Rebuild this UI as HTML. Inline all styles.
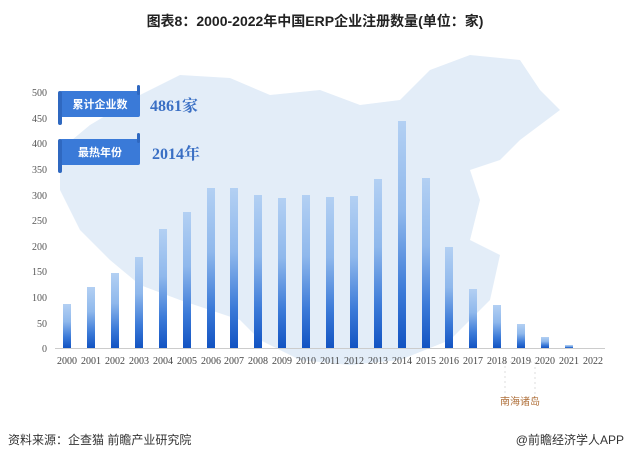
<!DOCTYPE html>
<html><head><meta charset="utf-8"><style>
html,body{margin:0;padding:0;background:#fff;}
svg{display:block;}
</style></head><body>
<svg width="630" height="456" viewBox="0 0 630 456" xmlns="http://www.w3.org/2000/svg">
<defs>
<linearGradient id="g" x1="0" y1="0" x2="0" y2="1">
<stop offset="0" stop-color="#b3d0f3"/>
<stop offset="0.4" stop-color="#8fb8ec"/>
<stop offset="0.75" stop-color="#3b7ad8"/>
<stop offset="1" stop-color="#1253c2"/>
</linearGradient>
</defs>
<text x="315" y="26" text-anchor="middle" font-family="Liberation Sans, Noto Sans CJK SC, sans-serif" font-size="14" font-weight="bold" fill="#222">图表8：2000-2022年中国ERP企业注册数量(单位：家)</text>
<path d="M140,95 L180,75 L230,78 L270,95 L320,90 L360,105 L400,100 L430,70 L470,55 L520,60 L540,90 L560,110 L520,140 L500,160 L470,170 L480,200 L470,240 L500,255 L490,300 L450,340 L400,360 L350,365 L300,360 L260,340 L240,320 L210,310 L180,300 L140,285 L110,260 L80,230 L60,190 L60,150 L90,125 Z" fill="#e3edf8"/>
<rect x="505" y="362" width="30" height="38" fill="none" stroke="#ddd" stroke-dasharray="2,3"/>
<text x="520" y="405" text-anchor="middle" font-family="Liberation Sans, Noto Sans CJK SC, sans-serif" font-size="10" fill="#b0703a">南海诸岛</text>
<g font-family="Liberation Serif, serif" font-size="10" fill="#555" text-anchor="end">
<text x="47" y="96">500</text><text x="47" y="122">450</text><text x="47" y="147">400</text><text x="47" y="173">350</text><text x="47" y="199">300</text><text x="47" y="224">250</text><text x="47" y="250">200</text><text x="47" y="275">150</text><text x="47" y="301">100</text><text x="47" y="327">50</text><text x="47" y="352">0</text>
</g>
<line x1="55" y1="348.5" x2="605" y2="348.5" stroke="#ccc" stroke-width="1"/>
<g fill="url(#g)">
<rect x="63" y="304" width="8" height="44"/>
<rect x="87" y="287" width="8" height="61"/>
<rect x="111" y="273" width="8" height="75"/>
<rect x="135" y="257" width="8" height="91"/>
<rect x="159" y="229" width="8" height="119"/>
<rect x="183" y="212" width="8" height="136"/>
<rect x="207" y="188" width="8" height="160"/>
<rect x="230" y="188" width="8" height="160"/>
<rect x="254" y="195" width="8" height="153"/>
<rect x="278" y="198" width="8" height="150"/>
<rect x="302" y="195" width="8" height="153"/>
<rect x="326" y="197" width="8" height="151"/>
<rect x="350" y="196" width="8" height="152"/>
<rect x="374" y="179" width="8" height="169"/>
<rect x="398" y="121" width="8" height="227"/>
<rect x="422" y="178" width="8" height="170"/>
<rect x="445" y="247" width="8" height="101"/>
<rect x="469" y="289" width="8" height="59"/>
<rect x="493" y="305" width="8" height="43"/>
<rect x="517" y="324" width="8" height="24"/>
<rect x="541" y="337" width="8" height="11"/>
<rect x="565" y="345" width="8" height="3"/>
</g>
<g font-family="Liberation Serif, serif" font-size="10" fill="#444" text-anchor="middle">
<text x="67" y="364">2000</text><text x="91" y="364">2001</text><text x="115" y="364">2002</text><text x="139" y="364">2003</text><text x="163" y="364">2004</text><text x="187" y="364">2005</text><text x="211" y="364">2006</text><text x="234" y="364">2007</text><text x="258" y="364">2008</text><text x="282" y="364">2009</text><text x="306" y="364">2010</text><text x="330" y="364">2011</text><text x="354" y="364">2012</text><text x="378" y="364">2013</text><text x="402" y="364">2014</text><text x="426" y="364">2015</text><text x="449" y="364">2016</text><text x="473" y="364">2017</text><text x="497" y="364">2018</text><text x="521" y="364">2019</text><text x="545" y="364">2020</text><text x="569" y="364">2021</text><text x="593" y="364">2022</text>
</g>
<rect x="60" y="91" width="80" height="26" rx="2" fill="#3a7ad8"/>
<rect x="58" y="91" width="4" height="34" rx="2" fill="#2f68c0"/>
<rect x="137" y="85" width="3" height="10" rx="1.5" fill="#2f68c0"/>
<text x="100" y="108" text-anchor="middle" font-family="Liberation Sans, Noto Sans CJK SC, sans-serif" font-size="11" font-weight="bold" fill="#fff">累计企业数</text>
<text x="150" y="111" font-family="Liberation Serif, Noto Serif CJK SC, serif" font-size="16" font-weight="bold" fill="#3a6fc4">4861家</text>
<rect x="60" y="139" width="80" height="26" rx="2" fill="#3a7ad8"/>
<rect x="58" y="139" width="4" height="34" rx="2" fill="#2f68c0"/>
<rect x="137" y="133" width="3" height="10" rx="1.5" fill="#2f68c0"/>
<text x="100" y="156" text-anchor="middle" font-family="Liberation Sans, Noto Sans CJK SC, sans-serif" font-size="11" font-weight="bold" fill="#fff">最热年份</text>
<text x="152" y="159" font-family="Liberation Serif, Noto Serif CJK SC, serif" font-size="16" font-weight="bold" fill="#3a6fc4">2014年</text>
<text x="8" y="444" font-family="Liberation Sans, Noto Sans CJK SC, sans-serif" font-size="12" fill="#333">资料来源：企查猫 前瞻产业研究院</text>
<text x="624" y="444" text-anchor="end" font-family="Liberation Sans, Noto Sans CJK SC, sans-serif" font-size="12" fill="#333">@前瞻经济学人APP</text>
</svg>
</body></html>
